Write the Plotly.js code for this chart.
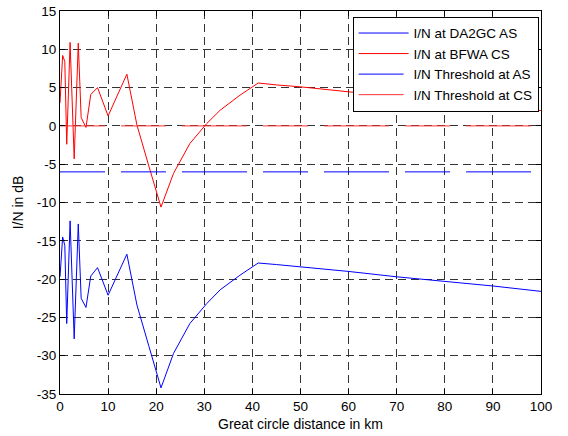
<!DOCTYPE html>
<html>
<head>
<meta charset="utf-8">
<script src="https://cdn.plot.ly/plotly-3.0.1.min.js"></script>
<style>html,body{margin:0;padding:0;background:#fff;}#chart{width:568px;height:436px;}</style>
</head>
<body>
<div id="chart"></div>
<script>
const distanceKm = [0, 0.55, 1.0, 1.4, 2.1, 2.95, 3.8, 4.4, 5.4, 6.4, 7.8, 10.0, 13.9, 16.0, 18.5, 21.0, 23.6, 27.0, 30.5, 33.3, 37.4, 41.2, 45, 50, 60, 70, 80, 90, 100];
const inBFWA_CS = [3.0, 9.2, 8.4, -2.4, 10.9, -4.3, 10.8, 1.1, -0.2, 4.1, 5.0, 1.3, 6.75, 0.1, -5.3, -10.6, -6.2, -2.3, 0.3, 2.05, 4.0, 5.6, 5.35, 5.1, 4.45, 3.8, 3.2, 2.6, 2.0];
const inDA2GC_AS = [-19.7, -14.5, -15.6, -25.8, -12.4, -27.8, -12.8, -22.5, -23.7, -19.6, -18.5, -22.1, -16.75, -23.4, -28.8, -34.2, -29.7, -25.8, -23.2, -21.4, -19.5, -17.9, -18.1, -18.4, -19.0, -19.7, -20.3, -20.9, -21.6];
const thresholdX = [0, 100];
const thresholdAS = [-6, -6];
const thresholdCS = [0, 0];
const xTicks = [0, 10, 20, 30, 40, 50, 60, 70, 80, 90, 100];
const yTicks = [-35, -30, -25, -20, -15, -10, -5, 0, 5, 10, 15];

const longDash = "45px,16px,45px,16px,65px,16px,45px,16px,65px,16px,45px,16px,65px,16px";

const traces = [
  {x: distanceKm, y: inDA2GC_AS, name: 'I/N at DA2GC AS', mode: 'lines', line: {color: '#0000ff', width: 1}},
  {x: distanceKm, y: inBFWA_CS, name: 'I/N at BFWA CS', mode: 'lines', line: {color: '#ff0000', width: 1}},
  {x: thresholdX, y: thresholdAS, name: 'I/N Threshold at AS', mode: 'lines', line: {color: '#0000ff', width: 1, dash: longDash}},
  {x: thresholdX, y: thresholdCS, name: 'I/N Threshold at CS', mode: 'lines', line: {color: '#ff3333', width: 1, dash: longDash}}
];

const axisCommon = {
  showline: true, linecolor: '#000', linewidth: 1, mirror: 'ticks',
  ticks: 'inside', ticklen: 5, tickcolor: '#000', tickwidth: 1,
  showgrid: true, gridcolor: '#333', griddash: '8px,5px', gridwidth: 1,
  zeroline: false, tickfont: {family: 'Liberation Sans, Arial', size: 13.5, color: '#000'}
};

const layout = {
  width: 568, height: 436,
  margin: {l: 60, r: 27, t: 11, b: 42},
  paper_bgcolor: '#fff', plot_bgcolor: '#fff',
  font: {family: 'Liberation Sans, Arial', size: 14, color: '#000'},
  showlegend: true,
  legend: {x: 0.995, xanchor: 'right', y: 0.985, yanchor: 'top', bgcolor: '#fff', bordercolor: '#000', borderwidth: 1,
           font: {family: 'Liberation Sans, Arial', size: 13.5, color: '#000'}, itemwidth: 50, tracegroupgap: 0},
  xaxis: Object.assign({}, axisCommon, {range: [0, 100], tickvals: xTicks, ticktext: xTicks.map(String),
    title: {text: 'Great circle distance in km', font: {size: 14, color: '#000'}, standoff: 5}}),
  yaxis: Object.assign({}, axisCommon, {range: [-35, 15], tickvals: yTicks, ticktext: yTicks.map(String),
    title: {text: 'I/N in dB', font: {size: 14, color: '#000'}, standoff: 9}})
};

Plotly.newPlot('chart', traces, layout, {displayModeBar: false, staticPlot: true});
</script>
</body>
</html>
